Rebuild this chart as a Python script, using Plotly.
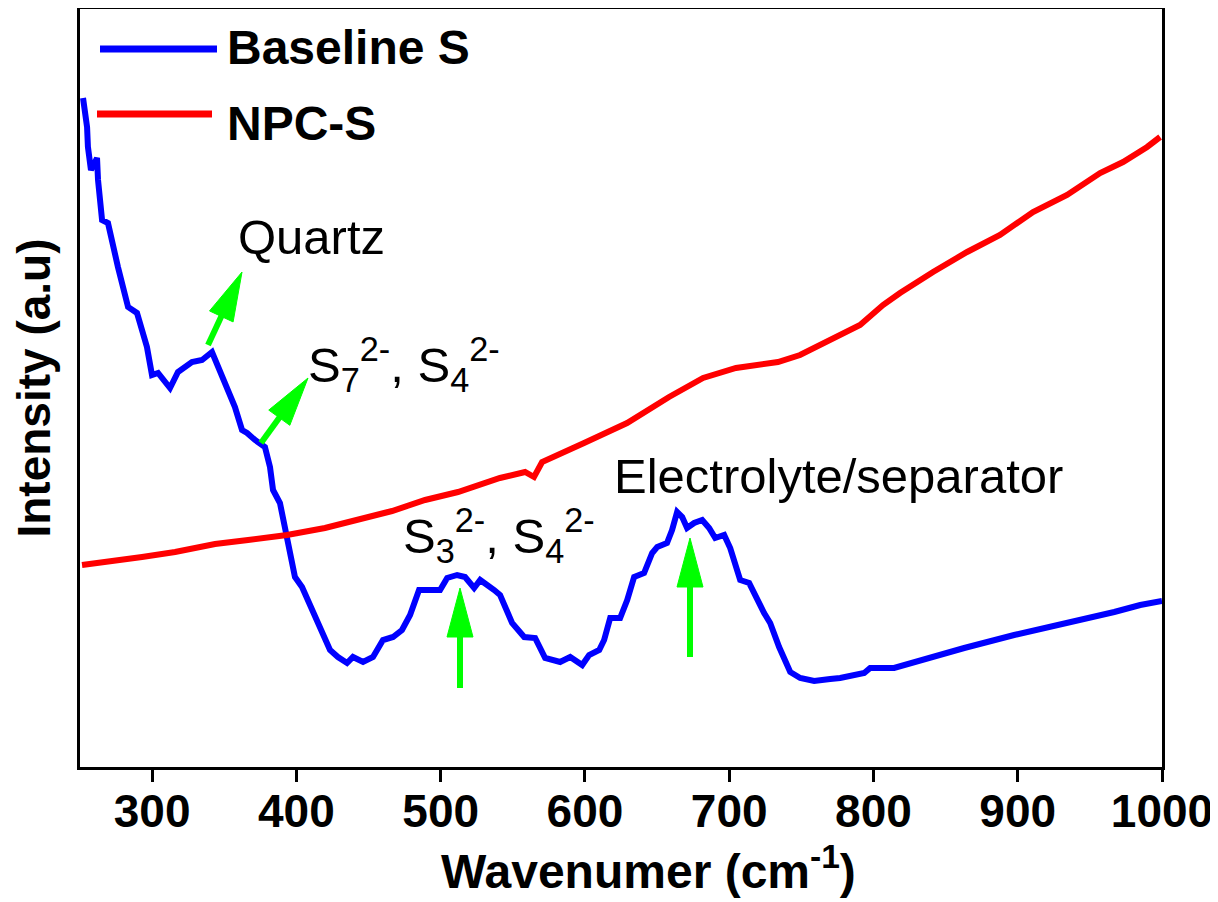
import math
import plotly.graph_objects as go

# ---------------- data ----------------
wn_baseline = [252.1, 254.9, 255.5, 257.6, 261.8, 262.5, 265.3, 269.4, 276.3, 283.3,
               289.5, 296.4, 299.9, 304.1, 312.4, 317.9, 327.6, 334.6, 341.5, 349.1,
               357.4, 362.3, 365.8, 371.3, 378.2, 381.7, 383.8, 388.6, 392.1, 394.2,
               399.0, 403.9, 416.4, 423.3, 428.8, 435.1, 439.2, 446.2, 453.1, 460.0,
               467.0, 473.2, 478.8, 483.6, 485.0, 499.6, 504.5, 511.4, 516.9, 523.2,
               527.4, 537.1, 541.2, 549.5, 557.9, 565.5, 572.4, 582.8, 589.8, 598.1,
               602.9, 609.9, 613.3, 617.5, 624.4, 629.3, 634.1, 641.0, 646.6, 650.1,
               656.9, 660.4, 663.9, 667.4, 670.8, 675.7, 681.3, 686.1, 690.3, 696.5,
               700.7, 707.6, 713.8, 724.2, 728.4, 734.6, 742.3, 749.2, 758.9, 770.0,
               776.9, 793.6, 797.7, 814.3, 839.3, 862.9, 897.5, 927.3, 943.3, 966.9,
               984.9, 996.7, 1000.0]
int_baseline = [669, 640, 620, 597, 609, 587, 547, 544, 500, 460,
                454, 420, 392, 394, 379, 395, 405, 407, 415, 390,
                360, 337, 334, 327, 320, 300, 277, 264, 240, 227,
                190, 180, 140, 117, 110, 104, 110, 105, 110, 127,
                130, 137, 152, 169, 177, 177, 189, 192, 190, 179,
                187, 177, 172, 144, 130, 129, 109, 105, 110, 102,
                112, 117, 127, 149, 149, 167, 190, 194, 214, 220,
                224, 237, 255, 250, 239, 244, 247, 239, 229, 232,
                219, 187, 184, 154, 144, 120, 95, 89, 86, 88,
                89, 94, 99, 99, 110, 119, 132, 142, 146, 155,
                162, 165, 166]

wn_npc = [251.4, 269.4, 293.0, 315.9, 343.6, 366.5, 393.5, 419.8, 442.7, 466.3,
          489.2, 512.0, 541.1, 558.5, 564.7, 570.3, 599.4, 629.2, 658.3, 681.9,
          704.7, 733.8, 749.1, 767.8, 790.7, 806.6, 818.4, 841.3, 864.9, 887.7,
          910.6, 934.2, 957.1, 973.0, 989.7, 998.7]
int_npc = [202, 205, 210, 215, 223, 227, 232, 239, 247, 256,
           267, 275, 289, 295, 290, 305, 324, 344, 370, 389,
           399, 405, 412, 425, 442, 462, 474, 495, 515, 532,
           555, 572, 594, 605, 620, 630]

series_names = ["Baseline S", "NPC-S"]
x_tick_vals = [300, 400, 500, 600, 700, 800, 900, 1000]
x_range = [250, 1000]
y_range = [0, 758]

# ---------------- layout geometry (page pixels; page body has an 8px margin) ----------------
OFF = 8
W, H = 1218 - OFF, 902 - OFF
PL, PR, PT, PB = 80, 1162, 9, 767   # plot-area edges in page pixels

def dx(px):
    return x_range[0] + (px - PL) / (PR - PL) * (x_range[1] - x_range[0])

def dy(py):
    return y_range[0] + (PB - py) / (PB - PT) * (y_range[1] - y_range[0])

def ppx(px):
    return (px - PL) / (PR - PL)

def ppy(py):
    return (PB - py) / (PB - PT)

FONT = "Liberation Sans, Arial, sans-serif"
GREEN = "#00ff00"

fig = go.Figure()
fig.add_trace(go.Scatter(x=wn_baseline, y=int_baseline, mode="lines",
                         name=series_names[0], line=dict(color="#0000ff", width=6),
                         showlegend=False))
fig.add_trace(go.Scatter(x=wn_npc, y=int_npc, mode="lines",
                         name=series_names[1], line=dict(color="#ff0000", width=6),
                         showlegend=False))

shapes = []
annotations = []

# ---- arrows (green, long triangular heads) ----
def add_arrow(tail, tip, hl=49, hw=13, w=6):
    vx, vy = tip[0] - tail[0], tip[1] - tail[1]
    L = math.hypot(vx, vy)
    ux, uy = vx / L, vy / L
    bx, by = tip[0] - ux * hl, tip[1] - uy * hl
    nx, ny = -uy, ux
    w1 = (bx + nx * hw, by + ny * hw)
    w2 = (bx - nx * hw, by - ny * hw)
    shapes.append(dict(type="line", xref="x", yref="y",
                       x0=dx(tail[0]), y0=dy(tail[1]),
                       x1=dx(bx + ux * 4), y1=dy(by + uy * 4),
                       line=dict(color=GREEN, width=w)))
    path = "M{},{} L{},{} L{},{} Z".format(dx(tip[0]), dy(tip[1]),
                                           dx(w1[0]), dy(w1[1]),
                                           dx(w2[0]), dy(w2[1]))
    shapes.append(dict(type="path", xref="x", yref="y", path=path,
                       fillcolor=GREEN, line=dict(color=GREEN, width=1)))

add_arrow((208, 345), (242, 272))
add_arrow((261, 443), (308, 378))
add_arrow((460, 688), (460, 588))
add_arrow((690, 657), (690, 538))

# ---- peak labels ----
def add_label(text, px, py, size=49):
    annotations.append(dict(text=text, xref="x", yref="y", x=dx(px), y=dy(py),
                            xanchor="left", yanchor="middle", showarrow=False,
                            font=dict(family=FONT, size=size, color="#000000")))

add_label("Quartz", 236, 237)
add_label("S<sub>7</sub><sup>2-</sup>, S<sub>4</sub><sup>2-</sup>", 306, 364)
add_label("S<sub>3</sub><sup>2-</sup>, S<sub>4</sub><sup>2-</sup>", 401, 535)
add_label("Electrolyte/separator", 612, 476)

# ---- custom legend ----
legend_rows = [(series_names[0], "#0000ff", 100, 217, 49, 47),
               (series_names[1], "#ff0000", 97, 212, 114, 123)]
for name, col, x0, x1, yl, yt in legend_rows:
    shapes.append(dict(type="line", xref="paper", yref="paper",
                       x0=ppx(x0), x1=ppx(x1), y0=ppy(yl), y1=ppy(yl),
                       line=dict(color=col, width=7)))
    annotations.append(dict(text="<b>%s</b>" % name, xref="paper", yref="paper",
                            x=ppx(225), y=ppy(yt), xanchor="left", yanchor="middle",
                            showarrow=False,
                            font=dict(family=FONT, size=48, color="#000000")))

# ---- x-axis title (placed as in the reference, slightly right of centre) ----
annotations.append(dict(text="<b>Wavenumer (cm<sup>-1</sup>)</b>", xref="paper",
                        yref="paper", x=ppx(648), y=ppy(868), xanchor="center",
                        yanchor="middle", showarrow=False,
                        font=dict(family=FONT, size=48, color="#000000")))

fig.update_layout(
    width=W, height=H,
    margin=dict(l=PL - OFF, r=W - (PR - OFF), t=PT - OFF, b=H - (PB - OFF),
                autoexpand=False),
    paper_bgcolor="white", plot_bgcolor="white",
    shapes=shapes, annotations=annotations,
    showlegend=False,
    font=dict(family=FONT, color="#000000"),
)
fig.update_xaxes(
    range=x_range, tickvals=x_tick_vals, ticks="outside", ticklen=12, tickwidth=3,
    tickcolor="black", showline=True, linecolor="black", linewidth=3, mirror=True,
    showgrid=False, zeroline=False, automargin=False, ticklabelstandoff=-10,
    tickfont=dict(family=FONT, size=46, color="black", weight="bold"),
)
fig.update_yaxes(
    range=y_range, showticklabels=False, ticks="", showline=True, linecolor="black",
    linewidth=3, mirror=True, showgrid=False, zeroline=False, automargin=False,
    title=dict(text="<b>Intensity (a.u)</b>", standoff=13,
               font=dict(family=FONT, size=46, color="black")),
)

fig.write_html("out.html")
